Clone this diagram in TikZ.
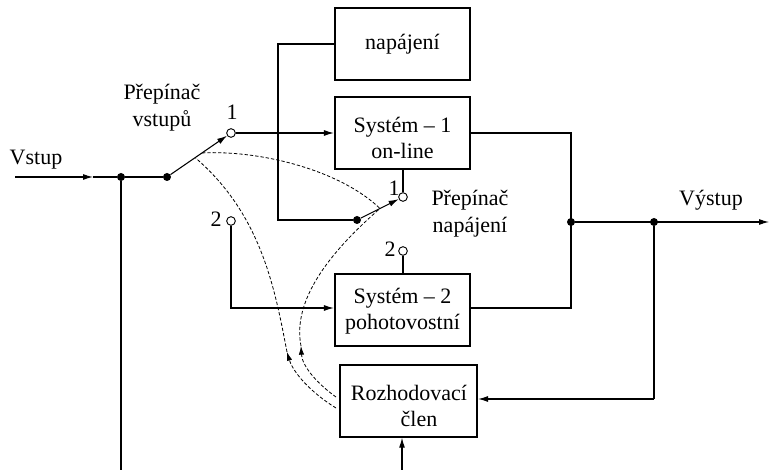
\documentclass[tikz,border=0pt]{standalone}
\usepackage{fontspec}
\setmainfont{Liberation Serif}
\usetikzlibrary{arrows.meta,calc}
\begin{document}
\begin{tikzpicture}[x=0.75pt,y=-0.75pt,
  font=\fontsize{16.5}{19.5}\selectfont,
  blk/.style={draw,line width=1.6pt,minimum width=101.25pt,minimum height=53.5pt,inner sep=0pt,align=center},
  ln/.style={line width=0.8pt},
  arr/.style={ln,-{Latex[length=7.5pt,width=4.5pt]}},
  dot/.style={circle,fill,inner sep=0pt,minimum size=6pt},
  odot/.style={circle,draw,fill=white,line width=0.7pt,inner sep=0pt,minimum size=6.5pt},
  dsh/.style={line width=0.6pt,dash pattern=on 2.5pt off 1.5pt},
  darr/.style={dsh,-{Latex[length=6.5pt,width=4pt]}},
  lbl/.style={inner sep=0pt,align=center}
]
\useasboundingbox (0,0) rectangle (769,470);
% blocks
\node[blk] (nap) at (402.5,44) {napájení};
\node[blk] (s1) at (402.5,133) {};
\node[lbl] (s1t) at (402.5,138) {Systém – 1\\on-line};
\node[blk] (s2) at (402.5,310) {};
\node[lbl] (s2t) at (402.5,311) {Systém – 2\\pohotovostní};
\node[blk,minimum width=102.75pt] (roz) at (408.5,401) {};
\node[lbl] (rozt) at (409,406) {Rozhodovací\\\hspace*{15pt}člen};
% labels
\node[lbl] (vstup) at (36,160) {Vstup};
\node[lbl] (pv1) at (162,94) {Přepínač};
\node[lbl] (pv2) at (162,121) {vstupů};
\node[lbl] (l1) at (232,112) {1};
\node[lbl] (l2) at (216,219) {2};
\node[lbl] (l3) at (394,188) {1};
\node[lbl] (l4) at (390,249) {2};
\node[lbl] (pn1) at (470,200) {Přepínač};
\node[lbl] (pn2) at (470,227) {napájení};
\node[lbl] (vy) at (711,200) {Výstup};
% points
\coordinate (in0) at (15,177);
\coordinate (ina) at (93,177);
\node[dot] (j0) at (121,177) {};
\node[dot] (d1) at (167,177) {};
\coordinate (b0) at (121,470);
\node[odot] (c1) at (231,133) {};
\node[odot] (c2) at (231,221) {};
\node[dot] (d2) at (357,220) {};
\node[odot] (c3) at (403,197) {};
\node[odot] (c4) at (403,251) {};
\coordinate (nk1) at (278,44);
\coordinate (nk2) at (278,220);
\node[dot] (j1) at (571,222) {};
\node[dot] (j2) at (654,222) {};
\coordinate (out) at (769,222);
\coordinate (k2) at (571,133);
\coordinate (k3) at (571,308);
\coordinate (k4) at (654,399);
\coordinate (rb) at (402,470);
% connectors
\draw[arr] (in0) -- (ina);
\draw[ln] (ina) -- (j0) -- (d1);
\draw[ln] (j0) -- (b0);
\draw[arr] (d1) -- (c1);
\draw[arr] (c1) -- (s1.west |- c1);
\draw[arr] (c2) |- (s2.west |- k3);
\draw[ln] (nap.west) -- (nk1) -- (nk2) -- (d2);
\draw[arr] (d2) -- (c3);
\draw[ln] (c3) -- (c3 |- s1.south);
\draw[ln] (c4) -- (c4 |- s2.north);
\draw[ln] (s1.east) -- (k2) -- (k3) -- (s2.east |- k3);
\draw[arr] (j1) -- (out);
\draw[ln] (j2) -- (k4);
\draw[arr] (k4) -- (roz.east |- k4);
\draw[arr] (rb) -- (rb |- roz.south);
% dashed couplings
\coordinate (P1) at ($(d1)!0.547!(c1)$);
\coordinate (P3) at ($(d1)!0.44!(c1)$);
\coordinate (P2) at ($(d2)!0.5!(c3)$);
\coordinate (A0) at (336,408);
\coordinate (A1) at (287,352);
\coordinate (B0) at (336,397);
\coordinate (B1) at (301,346);
\draw[dsh] (P1) .. controls (260,150) and (340,170) .. (P2);
\draw[darr] (A0) .. controls (310,392) and (293,372) .. (A1);
\draw[dsh] (A1) .. controls (275,290) and (262,215) .. (P3);
\draw[darr] (B0) .. controls (315,382) and (302,365) .. (B1);
\draw[dsh] (B1) .. controls (292,300) and (330,252) .. (P2);
\end{tikzpicture}
\end{document}
